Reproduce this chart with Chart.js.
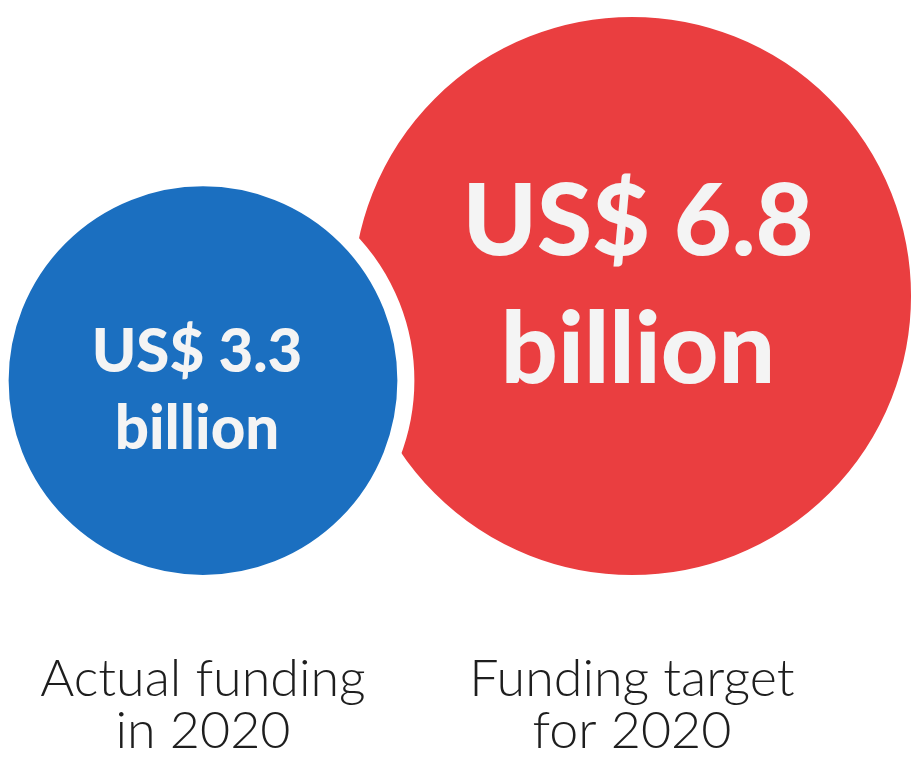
<!DOCTYPE html>
<html>
<head>
<meta charset="utf-8">
<title>Funding 2020</title>
<script src="https://cdn.jsdelivr.net/npm/chart.js@4.4.1/dist/chart.umd.min.js"></script>
<style>
  html, body { margin: 0; padding: 0; background: #ffffff; }
  #wrap { width: 915px; height: 757px; }
</style>
</head>
<body>
<div id="wrap"><canvas id="fundingChart" width="915" height="757"></canvas></div>
<script>
// categories shown under each bubble (one array entry per line)
const categories = [["Actual funding", "in 2020"], ["Funding target", "for 2020"]];
// funding amounts, US$ billion
const fundingBillions = [3.3, 6.8];
// text printed inside the bubbles
const bubbleLabels = [["US$ 3.3", "billion"], ["US$ 6.8", "billion"]];

const bubbleColors = ["#1b6fc0", "#ea3e40"];
const bubbleFontSizes = [60, 100];
const textShift = [[-6, 8], [6, -13]];   // nudge of the amount text inside its bubble
const RADIUS_PER_SQRT = 107;   // bubble area follows the amount
const GAP = 17;                // white ring around each bubble
const BASE_GAP = 78;           // bubbles sit on a common line above the labels

function bubbleRadius(v) {
    return RADIUS_PER_SQRT * Math.sqrt(v);
}

// writes the amount in the middle of each bubble
const bubbleText = {
    id: "bubbleText",
    afterDatasetsDraw(chart) {
        const ctx = chart.ctx;
        chart.data.datasets.forEach((ds, i) => {
            const pt = chart.getDatasetMeta(i).data[0];
            if (!pt) return;
            const size = bubbleFontSizes[i];
            const lh = 1.28;
            const x = pt.x + textShift[i][0];
            const first = pt.y + textShift[i][1] - (lh - 0.72) * size / 2;
            ctx.save();
            ctx.font = "900 " + size + "px Lato, 'Open Sans', sans-serif";
            ctx.fillStyle = "#f4f4f4";
            ctx.textAlign = "center";
            ctx.textBaseline = "alphabetic";
            bubbleLabels[i].forEach((line, j) => {
                ctx.fillText(line, x, first + j * lh * size);
            });
            ctx.restore();
        });
    }
};

const ctx = document.getElementById("fundingChart").getContext("2d");
const chart = new Chart(ctx, {
    type: "bubble",
    data: {
        labels: categories,
        datasets: fundingBillions.map((v, i) => ({
            label: categories[i].join(" "),
            data: [{ x: categories[i], y: 0.5, r: bubbleRadius(v) + GAP / 2 }],
            backgroundColor: bubbleColors[i],
            borderColor: "#ffffff",
            borderWidth: GAP,
            hoverBorderWidth: GAP,
            clip: false
        }))
    },
    options: {
        responsive: false,
        animation: false,
        events: [],
        layout: {
            autoPadding: false,
            padding: { left: 203, right: 283, top: 0, bottom: 0 }
        },
        plugins: {
            legend: { display: false },
            tooltip: { enabled: false }
        },
        scales: {
            x: {
                type: "category",
                offset: false,
                grid: { display: false, drawTicks: false },
                border: { display: false },
                ticks: {
                    autoSkip: false,
                    maxRotation: 0,
                    minRotation: 0,
                    padding: 0,
                    color: "#1e1e1e",
                    font: { family: "Lato", weight: "300", size: 52, lineHeight: 1.0 }
                }
            },
            y: {
                display: false,
                min: 0,
                max: 1
            }
        }
    },
    plugins: [bubbleText]
});

// sit every bubble on the same base line, then redraw
function placeBubbles(c) {
    const yScale = c.scales.y;
    const base = c.chartArea.bottom - BASE_GAP;
    c.data.datasets.forEach((ds, i) => {
        const r = bubbleRadius(fundingBillions[i]);
        ds.data[0].y = yScale.getValueForPixel(base - r);
    });
    c.update("none");
}
placeBubbles(chart);
</script>
</body>
</html>
